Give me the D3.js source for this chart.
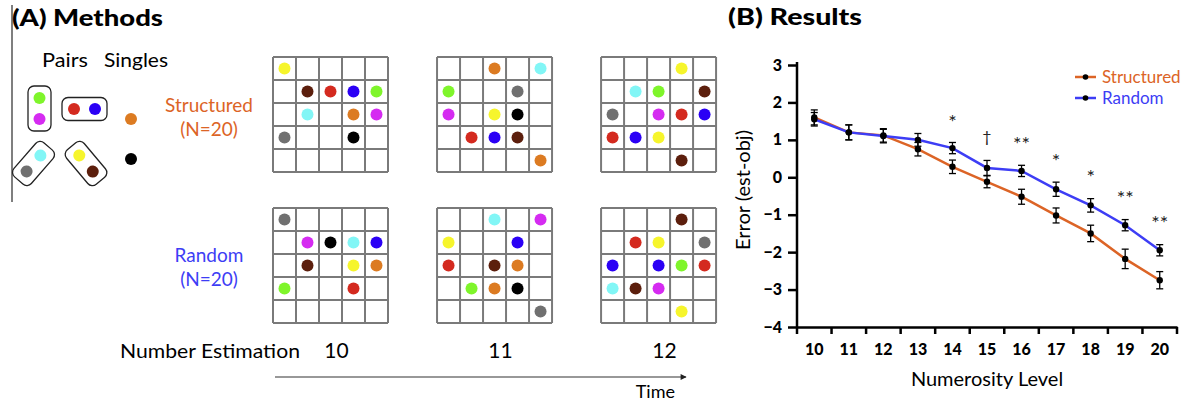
<!DOCTYPE html>
<html><head><meta charset="utf-8">
<script src="https://cdn.jsdelivr.net/npm/d3@7"></script>
<style>body{margin:0;background:#fff}svg{display:block}text{font-family:Lato,"Open Sans",sans-serif}</style>
</head><body>
<svg id="c" width="1191" height="405"></svg>
<script>
// ---------- Data ----------
const levels = [10,11,12,13,14,15,16,17,18,19,20];
const structuredMean = [1.6,1.2,1.12,0.75,0.28,-0.12,-0.52,-1.02,-1.5,-2.18,-2.75];
const structuredErr  = [0.2,0.2,0.18,0.18,0.18,0.16,0.2,0.2,0.22,0.26,0.23];
const randomMean     = [1.55,1.2,1.1,1.0,0.78,0.25,0.17,-0.32,-0.75,-1.28,-1.95];
const randomErr      = [0.18,0.2,0.18,0.17,0.15,0.2,0.15,0.19,0.18,0.15,0.15];
const yTicks = [3,2,1,0,-1,-2,-3,-4];
const sigLevels = [14,15,16,17,18,19,20];
const sigLabels = ["*","\u2020","**","*","*","**","**"];
const sigY      = [1.62,1.09,1.03,0.58,0.13,-0.41,-1.1];
const seriesNames = ["Structured","Random"];
const seriesColors = ["#dc6426","#3d3df5"];

const dotColors = {Y:"#f6f52c",N:"#5c1f0d",R:"#d42a1f",B:"#2b00f5",G:"#7ff52b",C:"#82f6f6",O:"#dc7b22",M:"#d52bf1",K:"#707070",X:"#000000"};
const trialNumbers = ["10","11","12"];
// grids: rows of 5 cells, "." = empty
const structuredGrids = [
 ["Y....",".NRBG",".C.OM","K..X.","....."],
 ["..O.C","G..K.","M.YX.",".RBN.","....O"],
 ["...Y.",".CG.N","K.MRB","RBY..","...N."]
];
const randomGrids = [
 ["K....",".MXCB",".N.YO","G..R.","....."],
 ["..C.M","Y..B.","R.NO.",".GOX.","....K"],
 ["...N.",".RY.K","B.BGR","CNM..","...Y."]
];
const pairColors = [["G","M"],["R","B"],["C","K"],["Y","N"]];
const singleColors = ["O","X"];

// ---------- Drawing ----------
const svg = d3.select("#c");

// Panel A
const A = svg.append("g");
A.append("line").attr("x1",12).attr("x2",12).attr("y1",5).attr("y2",202).attr("stroke","#555").attr("stroke-width",1.5);
A.append("text").attr("x",12).attr("y",26).attr("font-size",23).attr("font-weight",900).attr("textLength",151).attr("lengthAdjust","spacingAndGlyphs").text("(A) Methods");
A.append("text").attr("x",42).attr("y",67).attr("font-size",19).attr("textLength",46).attr("lengthAdjust","spacingAndGlyphs").text("Pairs");
A.append("text").attr("x",104).attr("y",67).attr("font-size",19).attr("textLength",64).attr("lengthAdjust","spacingAndGlyphs").text("Singles");

// pair boxes: center, angle
const pairLayout = [[39.5,108.5,0],[84.5,109,-90],[33.5,163.5,41],[86,163.5,-40]];
pairColors.forEach((p,i)=>{
  const [cx,cy,ang]=pairLayout[i];
  const g=A.append("g").attr("transform",`translate(${cx},${cy}) rotate(${ang})`);
  g.append("rect").attr("x",-11.5).attr("y",-22.5).attr("width",23).attr("height",45).attr("rx",6).attr("fill","none").attr("stroke","#222").attr("stroke-width",1.3);
  g.selectAll("circle").data(p).join("circle").attr("cx",0).attr("cy",(d,j)=>j?10.5:-10.5).attr("r",6).attr("fill",d=>dotColors[d]);
});
A.selectAll("circle.single").data(singleColors).join("circle").attr("class","single")
  .attr("cx",131).attr("cy",(d,i)=>119+i*40).attr("r",6).attr("fill",d=>dotColors[d]);

// condition labels
[[seriesNames[0],112,0],[seriesNames[1],262,1]].forEach(([t,yb,i])=>{
  A.append("text").attr("x",209).attr("y",yb).attr("text-anchor","middle").attr("font-size",19).attr("fill",seriesColors[i]).text(t);
  A.append("text").attr("x",209).attr("y",yb+24).attr("text-anchor","middle").attr("font-size",19).attr("fill",seriesColors[i]).text("(N=20)");
});

// grids
const cell = 23;
const gridX = d3.scaleBand().domain(trialNumbers).range([273,726]).paddingInner(36/151);
function drawGrid(grid, x0, y0){
  const g=A.append("g").attr("transform",`translate(${x0},${y0})`);
  for(let i=0;i<=5;i++){
    g.append("line").attr("x1",i*cell).attr("x2",i*cell).attr("y1",0).attr("y2",5*cell).attr("stroke","#7a7a7a").attr("stroke-width",2);
    g.append("line").attr("y1",i*cell).attr("y2",i*cell).attr("x1",0).attr("x2",5*cell).attr("stroke","#7a7a7a").attr("stroke-width",2);
  }
  const dots=[];
  grid.forEach((row,r)=>row.split("").forEach((ch,c)=>{ if(ch!==".") dots.push({r,c,ch}); }));
  g.selectAll("circle").data(dots).join("circle").attr("cx",d=>d.c*cell+cell/2).attr("cy",d=>d.r*cell+cell/2).attr("r",6).attr("fill",d=>dotColors[d.ch]);
}
structuredGrids.forEach((gr,i)=>drawGrid(gr, gridX(trialNumbers[i]), 57));
randomGrids.forEach((gr,i)=>drawGrid(gr, gridX(trialNumbers[i]), 208));

A.append("text").attr("x",120).attr("y",358).attr("font-size",19).attr("textLength",180).attr("lengthAdjust","spacingAndGlyphs").text("Number Estimation");
A.selectAll("text.tn").data(trialNumbers).join("text").attr("class","tn")
  .attr("x",d=>gridX(d)+gridX.bandwidth()/2+1).attr("y",358).attr("text-anchor","middle").attr("font-size",21).text(d=>d);
svg.append("defs").append("marker").attr("id","arr").attr("viewBox","0 0 10 10").attr("refX",9).attr("refY",5)
  .attr("markerWidth",9).attr("markerHeight",6).attr("orient","auto").attr("markerUnits","userSpaceOnUse")
  .append("path").attr("d","M0,0L10,5L0,10z").attr("fill","#222");
A.append("line").attr("x1",275).attr("x2",686).attr("y1",377).attr("y2",377).attr("stroke","#333").attr("stroke-width",1.2).attr("marker-end","url(#arr)");
A.append("text").attr("x",675).attr("y",398).attr("text-anchor","end").attr("font-size",18).text("Time");

// Panel B
const B = svg.append("g");
B.append("text").attr("x",728).attr("y",25).attr("font-size",23).attr("font-weight",900).attr("textLength",134).attr("lengthAdjust","spacingAndGlyphs").text("(B) Results");

const x = d3.scaleBand().domain(levels).range([797,1177]);
const y = d3.scaleLinear().domain([-4,3]).range([327,65]);
const cx = d => x(d)+x.bandwidth()/2;

// y axis
const ya = B.append("g").attr("transform","translate(797,0)")
  .call(d3.axisLeft(y).tickValues(yTicks).tickSize(9).tickPadding(6).tickFormat(d3.format("d")));
ya.select(".domain").attr("stroke","#000").attr("stroke-width",2.5).attr("d","M0,62V328");
ya.selectAll(".tick line").attr("stroke","#000").attr("stroke-width",2.5);
ya.selectAll(".tick text").attr("font-size",16).attr("font-weight",900).attr("font-family","Lato,sans-serif").attr("fill","#000");

// x axis
const xa = B.append("g").attr("transform","translate(0,327)")
  .call(d3.axisBottom(x).tickSize(0).tickPadding(17));
xa.select(".domain").attr("stroke","#000").attr("stroke-width",2.5);
xa.selectAll(".tick text").attr("font-size",16).attr("font-weight",900).attr("font-family","Lato,sans-serif").attr("fill","#000");
const bounds = levels.map(d=>x(d)).concat([x.range()[1]]);
B.selectAll("line.xt").data(bounds).join("line").attr("class","xt")
  .attr("x1",d=>d).attr("x2",d=>d).attr("y1",327).attr("y2",334).attr("stroke","#000").attr("stroke-width",2.5);

B.append("text").attr("x",987).attr("y",386).attr("text-anchor","middle").attr("font-size",20).text("Numerosity Level");
B.append("text").attr("transform","translate(750,190) rotate(-90)").attr("text-anchor","middle").attr("font-size",20).text("Error (est-obj)");

// series
const series = [
  {name:seriesNames[0], color:seriesColors[0], mean:structuredMean, err:structuredErr},
  {name:seriesNames[1], color:seriesColors[1], mean:randomMean, err:randomErr}
];
const line = d3.line().x((d,i)=>cx(levels[i])).y(d=>y(d));
series.forEach(s=>{
  B.append("path").attr("d",line(s.mean)).attr("fill","none").attr("stroke",s.color).attr("stroke-width",2.5);
});
series.forEach(s=>{
  const g=B.append("g");
  s.mean.forEach((m,i)=>{
    const px=cx(levels[i]), y1=y(m+s.err[i]), y2=y(m-s.err[i]);
    g.append("line").attr("x1",px).attr("x2",px).attr("y1",y1).attr("y2",y2).attr("stroke","#000").attr("stroke-width",1.3);
    g.append("line").attr("x1",px-3.5).attr("x2",px+3.5).attr("y1",y1).attr("y2",y1).attr("stroke","#000").attr("stroke-width",1.3);
    g.append("line").attr("x1",px-3.5).attr("x2",px+3.5).attr("y1",y2).attr("y2",y2).attr("stroke","#000").attr("stroke-width",1.3);
  });
  g.selectAll("circle").data(s.mean).join("circle").attr("cx",(d,i)=>cx(levels[i])).attr("cy",d=>y(d)).attr("r",3.2).attr("fill","#000");
});

// significance
B.selectAll("text.sig").data(sigLevels).join("text").attr("class","sig")
  .attr("x",d=>cx(d)).attr("y",(d,i)=>y(sigY[i])+(sigLabels[i]==="\u2020"?6:12)).attr("text-anchor","middle")
  .attr("fill","#222").attr("font-family","'DejaVu Sans',sans-serif")
  .attr("font-size",(d,i)=>sigLabels[i]==="\u2020"?16:20).text((d,i)=>sigLabels[i]);

// legend
series.forEach((s,i)=>{
  const ly = 77+i*21;
  B.append("line").attr("x1",1075).attr("x2",1096).attr("y1",ly).attr("y2",ly).attr("stroke",s.color).attr("stroke-width",2.5);
  B.append("circle").attr("cx",1085.5).attr("cy",ly).attr("r",2.8).attr("fill","#000");
  B.append("text").attr("x",1102).attr("y",ly+6).attr("font-size",17).attr("fill",s.color).text(s.name);
});
</script>
</body></html>
